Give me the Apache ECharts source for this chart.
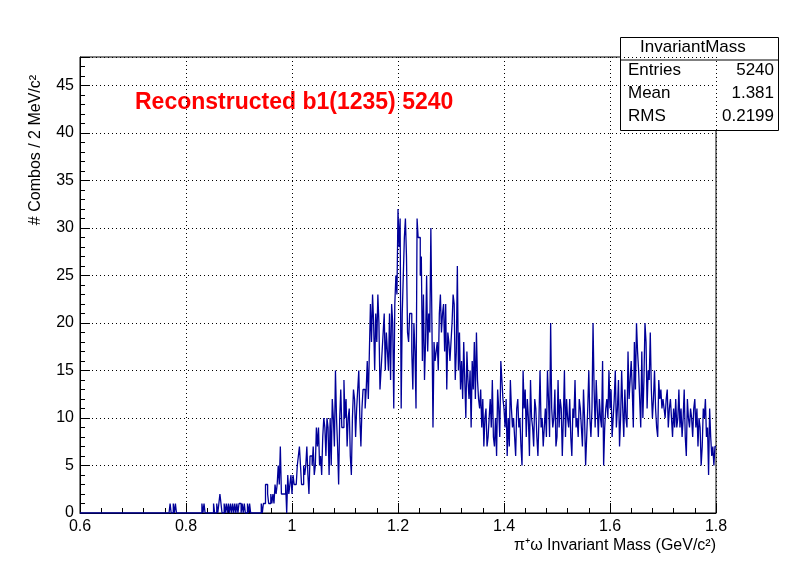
<!DOCTYPE html><html><head><meta charset="utf-8">
<script src="https://cdn.jsdelivr.net/npm/echarts@6/dist/echarts.min.js"></script>
<style>body{margin:0;background:#fff}#c{width:796px;height:572px}</style></head><body><div id="c"></div>
<script>
const xMin = 0.6, binWidth = 0.002;
const counts = [
0,0,0,0,0,0,0,0,0,0,0,0,0,0,0,0,0,0,0,0,
0,0,0,0,0,0,0,0,0,0,0,0,0,0,0,0,0,0,0,0,
0,0,0,0,0,0,0,0,0,0,0,0,0,0,0,0,0,0,0,0,
0,0,0,0,0,0,0,0,0,0,0,0,0,0,0,0,0,0,0,0,
0,0,0,0,0,1,0,0,1,0,1,0,0,0,0,0,0,0,0,0,
0,0,0,0,0,0,0,0,0,0,0,0,0,0,0,1,0,1,0,0,
0,0,0,0,0,0,1,0,0,1,0,1,2,1,0,0,1,0,1,0,
1,0,1,0,1,0,1,0,1,0,1,1,0,1,0,1,0,0,1,0,
1,0,0,0,0,0,0,0,0,0,0,1,0,1,1,3,3,2,1,1,
2,1,2,1,3,2,3,5,3,7,2,2,2,2,3,0,4,2,3,4,
2,4,3,3,3,5,6,7,5,3,3,5,4,5,7,4,2,6,6,5,
7,4,5,9,7,9,5,6,4,8,10,9,6,10,9,4,10,5,12,10,
7,15,10,7,3,10,13,9,9,14,10,12,7,10,11,6,4,10,13,12,
8,11,13,15,10,7,11,13,13,11,13,16,12,17,22,18,23,20,15,21,
18,23,20,13,15,17,19,21,15,19,17,15,21,14,22,20,11,22,25,23,
32,28,31,11,21,25,29,31,27,19,18,21,21,17,13,20,17,11,31,29,
29,25,27,16,23,14,18,25,17,21,19,30,20,9,18,16,17,18,15,21,
23,19,21,22,17,22,13,19,18,16,18,20,23,22,14,17,26,15,19,13,
16,12,18,14,10,17,14,12,15,9,16,13,18,12,19,14,12,11,13,9,
12,7,10,11,7,8,10,12,9,14,8,7,10,6,13,11,8,16,14,12,
11,9,12,6,10,7,14,11,9,10,8,6,11,12,9,10,7,5,15,11,
13,8,12,10,6,14,10,9,7,12,11,8,6,10,15,9,10,7,9,11,
8,15,12,8,20,11,9,10,13,7,8,14,9,12,11,6,10,15,8,12,
10,9,12,8,6,11,10,14,9,10,8,12,11,9,7,13,10,5,8,11,
15,10,8,11,20,13,9,14,11,8,12,10,9,16,5,9,11,12,10,15,
11,13,8,10,12,15,9,11,14,7,10,15,11,8,13,10,9,17,12,14,
16,13,9,18,13,20,17,15,12,9,17,10,14,20,18,11,15,14,19,13,
10,12,15,11,9,8,14,12,13,11,12,11,10,12,13,9,11,12,10,8,
11,9,12,9,10,13,9,11,8,10,13,8,6,12,10,9,11,10,8,11,
12,9,11,7,10,9,5,7,11,10,12,8,9,4,11,8,6,7,5,7];
const statsLabels = ["Entries","Mean","RMS"];
const statsValues = ["5240","1.381","0.2199"];
const title = "Reconstructed b1(1235) 5240";

const pts = counts.map((v,i)=>[+(xMin+i*binWidth).toFixed(4), v]);
pts.push([1.8, counts[counts.length-1]]);
const ch = echarts.init(document.getElementById('c'));
const F = 'Liberation Sans, Arial, sans-serif';
const rows = statsLabels.map((l,i)=>[
 {type:'text',left:628,top:62+i*23,style:{text:l,font:'17px '+F,fill:'#000'}},
 {type:'text',right:22,top:62+i*23,style:{text:statsValues[i],font:'17px '+F,fill:'#000',textAlign:'right'}}]).flat();
ch.setOption({
 animation:false,
 grid:{left:80,right:80,top:57,bottom:59,show:true,borderColor:'#000',borderWidth:1},
 xAxis:{type:'value',min:0.6,max:1.8,interval:0.2,
  axisLine:{lineStyle:{color:'#000'}},axisTick:{inside:true,length:10,lineStyle:{color:'#000'}},
  minorTick:{show:true,splitNumber:5,length:5,lineStyle:{color:'#000'}},
  axisLabel:{color:'#000',fontSize:16,fontFamily:F,margin:6,formatter:v=>+v.toFixed(1)+''},
  splitLine:{show:true,lineStyle:{color:'#000',type:[1,3]}}},
 yAxis:{type:'value',min:0,max:48,interval:5,
  axisLine:{show:true,lineStyle:{color:'#000'}},axisTick:{inside:true,length:10,lineStyle:{color:'#000'}},
  minorTick:{show:true,splitNumber:5,length:5,lineStyle:{color:'#000'}},
  axisLabel:{color:'#000',fontSize:16,fontFamily:F,margin:6,showMaxLabel:false},
  splitLine:{show:true,lineStyle:{color:'#000',type:[1,3]}}},
 series:[{type:'line',data:pts,step:'end',symbol:'none',lineStyle:{color:'#000099',width:1.3}}],
 graphic:[
  {type:'text',left:135,top:91,style:{text:title,font:'bold 23px '+F,fill:'#ff0000'}},
  {type:'rect',left:620,top:37,shape:{width:158,height:93},style:{fill:'#fff',stroke:'#000',lineWidth:1}},
  {type:'line',shape:{x1:620,y1:60,x2:778,y2:60},style:{stroke:'#000'}},
  {type:'text',left:640,top:39,style:{text:'InvariantMass',font:'17px '+F,fill:'#000'}},
  ...rows,
  {type:'text',right:80,top:538,style:{text:'π⁺ω Invariant Mass (GeV/c²)',font:'16px '+F,fill:'#000',textAlign:'right'}},
  {type:'text',rotation:Math.PI/2,x:28,y:150,
   style:{text:'# Combos / 2 MeV/c²',font:'16px '+F,fill:'#000',textAlign:'center',textVerticalAlign:'top'}}
 ]
});
</script></body></html>
